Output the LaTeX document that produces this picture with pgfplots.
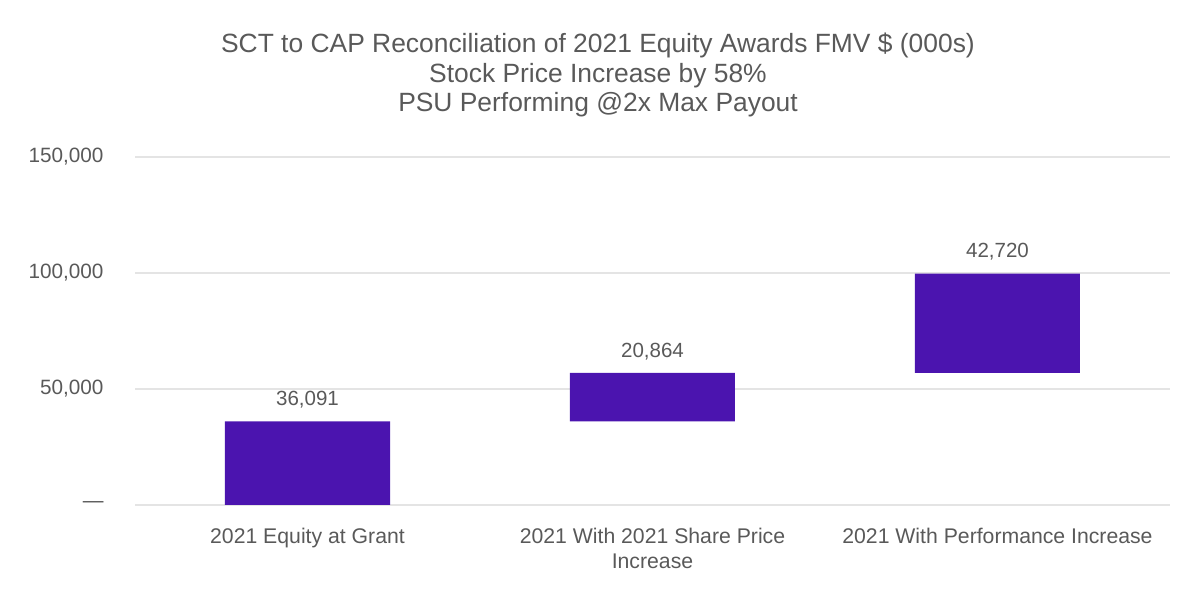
\documentclass[border=0pt]{standalone}
\usepackage{fontspec}
\setmainfont{Liberation Sans}
\usepackage{pgfplots}
\pgfplotsset{compat=1.18}
\usepackage{pgfplotstable}
\definecolor{barc}{HTML}{4B14AF}
\definecolor{txt}{HTML}{595959}
\definecolor{gridc}{HTML}{E4E4E4}
\pgfplotstableread{
x base val top
0 0 36091 36091
1 36091 20864 56955
2 56955 42720 99675
}\wf
\begin{document}
\begin{tikzpicture}[x=1bp,y=1bp]
\useasboundingbox (0,0) rectangle (1200,600);
\node[align=center, text=txt, font=\fontsize{26.5}{30}\selectfont, anchor=center] at (598,525)
  {SCT to CAP Reconciliation of 2021 Equity Awards FMV \$ (000s)\\Stock Price Increase by 58\%\\PSU Performing @2x Max Payout};
\pgfplotsset{common/.style={
  at={(135bp,95bp)}, anchor=south west,
  scale only axis, width=1035bp, height=348bp,
  xmin=-0.5, xmax=2.5, ymin=0, ymax=150000,
  clip=false,
}}
\begin{axis}[
  common,
  ybar stacked, bar width=165bp,
  axis line style={draw=none},
  major tick length=0pt,
  ymajorgrids, grid style={gridc, line width=1.5bp},
  xtick={0,1,2},
  xticklabels={{2021 Equity at Grant},{2021 With 2021 Share Price\\Increase},{2021 With Performance Increase}},
  ytick={0,50000,100000,150000},
  yticklabels={{---},{50,000},{100,000},{150,000}},
  /pgf/number format/assume math mode=true,
  yticklabel style={font=\fontsize{20.8}{25}\selectfont, text=txt, anchor=east, xshift=-28bp},
  xticklabel style={font=\fontsize{21.3}{25}\selectfont, text=txt, align=center, anchor=north, yshift=-20bp},
  scaled y ticks=false,
]
\addplot[draw=none, fill=none, forget plot] table[x=x, y=base] {\wf};
\addplot[fill=barc, draw=none] table[x=x, y=val] {\wf};
\end{axis}
\begin{axis}[
  common, hide axis,
  /pgf/number format/assume math mode=true,
]
\addplot[only marks, mark=none, point meta=explicit,
  nodes near coords={\pgfmathprintnumber[fixed,precision=0,1000 sep={,}]{\pgfplotspointmeta}},
  nodes near coords style={anchor=south, inner sep=0pt, yshift=13bp, text=txt, font=\fontsize{20.6}{25}\selectfont}]
  table[x=x, y=top, meta=val] {\wf};
\end{axis}
\end{tikzpicture}
\end{document}
